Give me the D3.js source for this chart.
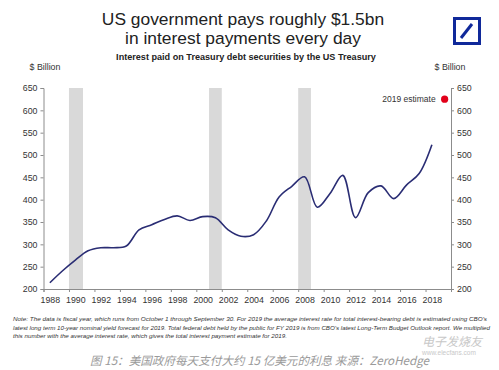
<!DOCTYPE html>
<html>
<head>
  <meta charset="utf-8">
  <script src="https://cdn.jsdelivr.net/npm/d3@7"></script>
  <style>
    body { margin: 0; background: #fff; }
    svg text { font-family: "Liberation Sans", Arial, sans-serif; }
    .axis path, .axis line { stroke: #8c8c8c; }
    .axis text { fill: #333; font-size: 8.8px; }
  </style>
</head>
<body>
  <svg width="499" height="370"></svg>
<script>
  // fiscal years and interest paid, $bn
  const years = [1988, 1989, 1990, 1991, 1992, 1993, 1994, 1995, 1996, 1997, 1998,
    1999, 2000, 2001, 2002, 2003, 2004, 2005, 2006, 2007, 2008, 2009, 2010,
    2011, 2012, 2013, 2014, 2015, 2016, 2017, 2018];
  const interest = [214.1, 240.9, 264.7, 285.5, 292.3, 292.5, 296.3, 332.4, 344.0,
    355.8, 363.8, 353.5, 362.0, 359.5, 332.5, 318.1, 321.6, 352.3, 405.9, 430.0,
    451.2, 383.1, 414.0, 454.4, 359.8, 415.7, 430.8, 402.4, 432.6, 458.5, 523.0];
  const estimateYear = 2019;
  const estimateValue = 625;
  const recessions = [[1990, 1991.1], [2001, 2002], [2008, 2009]];
  const xTicks = [1988, 1990, 1992, 1994, 1996, 1998, 2000, 2002, 2004, 2006,
    2008, 2010, 2012, 2014, 2016, 2018];
  const yTicks = [200, 250, 300, 350, 400, 450, 500, 550, 600, 650];

  const svg = d3.select('svg');
  const plotL = 43.5, plotR = 451, plotT = 88, plotB = 289;

  const x = d3.scaleLinear().domain([1988, 2020]).range([plotL, plotR]);
  const y = d3.scaleLinear().domain([200, 650]).range([plotB, plotT]);

  // recession shading
  svg.selectAll('.rec')
    .data(recessions)
    .enter()
    .append('rect')
    .attr('x', d => x(d[0]))
    .attr('y', plotT)
    .attr('width', d => x(d[1]) - x(d[0]))
    .attr('height', plotB - plotT)
    .attr('fill', '#d9d9d9');

  // axes
  svg.append('g')
    .attr('class', 'axis')
    .attr('transform', `translate(${plotL},0)`)
    .call(d3.axisLeft(y).tickValues(yTicks).tickSize(3).tickPadding(3));

  svg.append('g')
    .attr('class', 'axis')
    .attr('transform', `translate(${plotR},0)`)
    .call(d3.axisRight(y).tickValues(yTicks).tickSize(3).tickPadding(3));

  const xAxis = svg.append('g')
    .attr('class', 'axis')
    .attr('transform', `translate(0,${plotB})`)
    .call(d3.axisBottom(x).tickValues(xTicks).tickFormat(d3.format('d')).tickSize(3).tickPadding(5));
  // labels sit in the middle of the year
  xAxis.selectAll('text').attr('dx', x(1988.5) - x(1988));

  // line
  const line = d3.line()
    .x((d, i) => x(years[i] + 0.5))
    .y(d => y(d))
    .curve(d3.curveCatmullRom.alpha(0.5));

  svg.append('path')
    .datum(interest)
    .attr('d', line)
    .attr('fill', 'none')
    .attr('stroke', '#2a2d74')
    .attr('stroke-width', 1.6);

  // 2019 estimate
  svg.append('circle')
    .attr('cx', x(estimateYear + 0.5))
    .attr('cy', y(estimateValue))
    .attr('r', 3.6)
    .attr('fill', '#e2001a');
  svg.append('text')
    .attr('x', x(estimateYear + 0.5) - 9)
    .attr('y', y(estimateValue) + 3)
    .attr('text-anchor', 'end')
    .attr('font-size', 8.5)
    .attr('fill', '#333')
    .text('2019 estimate');

  // titles
  svg.append('text')
    .attr('x', 243).attr('y', 25)
    .attr('text-anchor', 'middle')
    .attr('font-size', 17.4)
    .attr('fill', '#222')
    .text('US government pays roughly $1.5bn');
  svg.append('text')
    .attr('x', 243).attr('y', 44)
    .attr('text-anchor', 'middle')
    .attr('font-size', 17.4)
    .attr('fill', '#222')
    .text('in interest payments every day');
  svg.append('text')
    .attr('x', 246).attr('y', 60)
    .attr('text-anchor', 'middle')
    .attr('font-size', 9.1)
    .attr('font-weight', 'bold')
    .attr('fill', '#222')
    .text('Interest paid on Treasury debt securities by the US Treasury');

  svg.append('text')
    .attr('x', 45).attr('y', 70)
    .attr('text-anchor', 'middle')
    .attr('font-size', 8.8).attr('fill', '#333')
    .text('$ Billion');
  svg.append('text')
    .attr('x', 450).attr('y', 70)
    .attr('text-anchor', 'middle')
    .attr('font-size', 8.8).attr('fill', '#333')
    .text('$ Billion');

  // logo
  svg.append('rect')
    .attr('x', 454.5).attr('y', 18.5)
    .attr('width', 25).attr('height', 25)
    .attr('fill', 'none')
    .attr('stroke', '#10299a')
    .attr('stroke-width', 3);
  svg.append('line')
    .attr('x1', 461).attr('y1', 38)
    .attr('x2', 472).attr('y2', 24)
    .attr('stroke', '#10299a')
    .attr('stroke-width', 3);

  // note
  const notes = [
    "Note: The data is fiscal year, which runs from October 1 through September 30. For 2019 the average interest rate for total interest-bearing debt is estimated using CBO's",
    "latest long term 10-year nominal yield forecast for 2019. Total federal debt held by the public for FY 2019 is from CBO's latest Long-Term Budget Outlook report. We multiplied",
    "this number with the average interest rate, which gives the total interest payment estimate for 2019."
  ];
  const noteLen = [474, 477, 274];
  notes.forEach((t, i) => {
    svg.append('text')
      .attr('x', 13).attr('y', 321 + i * 8.5)
      .attr('font-size', 6)
      .attr('font-style', 'italic')
      .attr('fill', '#333')
      .attr('textLength', noteLen[i])
      .attr('lengthAdjust', 'spacingAndGlyphs')
      .text(t);
  });

  // caption
  svg.append('text')
    .attr('x', 90).attr('y', 365)
    .attr('font-size', 11.6)
    .attr('font-style', 'italic')
    .attr('fill', '#9a9a9a')
    .style('font-family', '"Noto Sans CJK SC", sans-serif')
    .text('图 15：美国政府每天支付大约 15 亿美元的利息  来源：ZeroHedge');

  // watermark
  svg.append('text')
    .attr('x', 422).attr('y', 346)
    .attr('font-size', 12)
    .attr('font-style', 'italic')
    .attr('fill', '#c8c8c8')
    .style('font-family', '"Noto Sans CJK SC", sans-serif')
    .text('电子发烧友');
  svg.append('text')
    .attr('x', 422).attr('y', 355)
    .attr('font-size', 6.5)
    .attr('fill', '#c8c8c8')
    .text('www.elecfans.com');
</script>
</body>
</html>
